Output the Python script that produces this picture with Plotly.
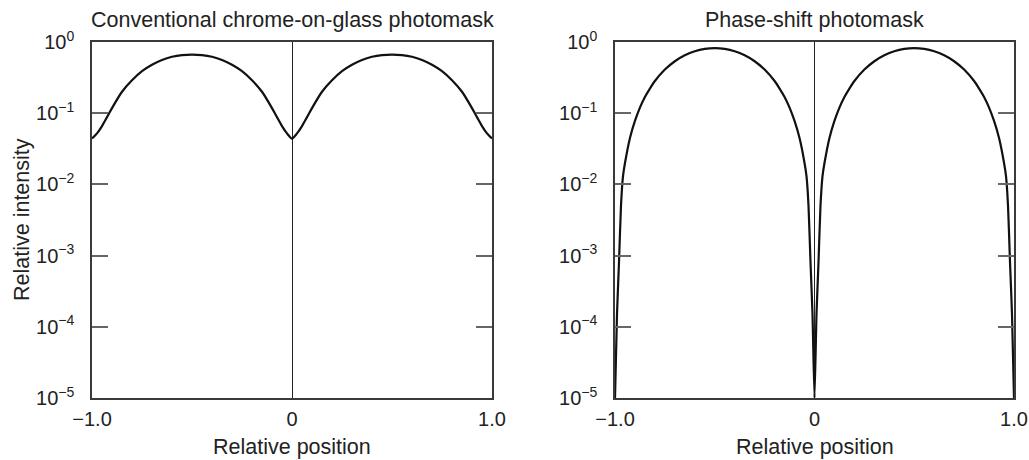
import plotly.graph_objects as go

# ---- data ----
x_conv = [-1.0, -0.975, -0.95, -0.925, -0.9, -0.85, -0.8, -0.75, -0.7, -0.65, -0.6, -0.55,
          -0.5, -0.45, -0.4, -0.35, -0.3, -0.25, -0.2, -0.15, -0.1, -0.075, -0.05, -0.025, 0.0,
          0.025, 0.05, 0.075, 0.1, 0.15, 0.2, 0.25, 0.3, 0.35, 0.4, 0.45, 0.5,
          0.55, 0.6, 0.65, 0.7, 0.75, 0.8, 0.85, 0.9, 0.925, 0.95, 0.975, 1.0]
y_conv = [0.044, 0.052, 0.066, 0.088, 0.118, 0.2, 0.29, 0.39, 0.48, 0.56, 0.62, 0.655,
          0.665, 0.655, 0.62, 0.56, 0.48, 0.39, 0.29, 0.2, 0.118, 0.088, 0.066, 0.052, 0.044,
          0.052, 0.066, 0.088, 0.118, 0.2, 0.29, 0.39, 0.48, 0.56, 0.62, 0.655, 0.665,
          0.655, 0.62, 0.56, 0.48, 0.39, 0.29, 0.2, 0.118, 0.088, 0.066, 0.052, 0.044]

x_ps = [-1.0, -0.99, -0.98, -0.97, -0.96, -0.95, -0.925, -0.9, -0.875, -0.85, -0.825, -0.8,
        -0.75, -0.7, -0.65, -0.6, -0.55, -0.5, -0.45, -0.4, -0.35, -0.3, -0.25,
        -0.2, -0.175, -0.15, -0.125, -0.1, -0.075, -0.05, -0.04, -0.03, -0.02, -0.01, 0.0,
        0.01, 0.02, 0.03, 0.04, 0.05, 0.075, 0.1, 0.125, 0.15, 0.175, 0.2,
        0.25, 0.3, 0.35, 0.4, 0.45, 0.5, 0.55, 0.6, 0.65, 0.7, 0.75,
        0.8, 0.825, 0.85, 0.875, 0.9, 0.925, 0.95, 0.96, 0.97, 0.98, 0.99, 1.0]
y_ps = [1e-5, 1.5e-4, 8e-4, 5e-3, 0.013, 0.02, 0.045, 0.078, 0.12, 0.169, 0.222, 0.283,
        0.41, 0.537, 0.651, 0.742, 0.80, 0.82, 0.80, 0.742, 0.651, 0.537, 0.41,
        0.283, 0.222, 0.169, 0.12, 0.078, 0.045, 0.02, 0.013, 5e-3, 8e-4, 1.5e-4, 1e-5,
        1.5e-4, 8e-4, 5e-3, 0.013, 0.02, 0.045, 0.078, 0.12, 0.169, 0.222, 0.283,
        0.41, 0.537, 0.651, 0.742, 0.80, 0.82, 0.80, 0.742, 0.651, 0.537, 0.41,
        0.283, 0.222, 0.169, 0.12, 0.078, 0.045, 0.02, 0.013, 5e-3, 8e-4, 1.5e-4, 1e-5]

y_tickvals = [1, 1e-1, 1e-2, 1e-3, 1e-4, 1e-5]
y_ticktext = ["10<sup>0</sup>", "10<sup>\u22121</sup>", "10<sup>\u22122</sup>",
              "10<sup>\u22123</sup>", "10<sup>\u22124</sup>", "10<sup>\u22125</sup>"]
x_tickvals = [-1.0, 0.0, 1.0]
x_ticktext = ["\u22121.0", "0", "1.0"]

titles = ["Conventional chrome-on-glass photomask", "Phase-shift photomask"]
x_title = "Relative position"
y_title = "Relative intensity"

W, H = 1029, 460
FONT = "Liberation Sans, Arial, sans-serif"
TXT = "#222222"

fig = go.Figure()
fig.add_trace(go.Scatter(x=x_conv, y=y_conv, mode="lines", xaxis="x", yaxis="y",
                         line=dict(color="#111111", width=2.2, shape="spline", smoothing=0.6),
                         showlegend=False, hoverinfo="skip"))
fig.add_trace(go.Scatter(x=x_ps, y=y_ps, mode="lines", xaxis="x2", yaxis="y2",
                         line=dict(color="#111111", width=2.2, shape="spline", smoothing=0.5),
                         showlegend=False, hoverinfo="skip"))

dom_l = [92 / W, 492 / W]
dom_r = [615 / W, 1014 / W]
dom_y = [1 - 398 / H, 1 - 42 / H]

xcommon = dict(range=[-1, 1], tickvals=x_tickvals, ticktext=x_ticktext, ticks="",
               showline=True, linecolor="#3a3a3a", linewidth=1.5, mirror=True,
               showgrid=False, zeroline=True, zerolinecolor="#222222", zerolinewidth=1.2,
               automargin=False,
               tickfont=dict(family=FONT, size=20, color=TXT), ticklabelstandoff=2)
ycommon = dict(type="log", range=[-5, 0], tickvals=y_tickvals, ticktext=y_ticktext,
               ticks="inside", ticklen=16, tickwidth=1.5, tickcolor="#666666",
               showline=True, linecolor="#3a3a3a", linewidth=1.5, mirror="ticks",
               showgrid=False, zeroline=False, automargin=False,
               tickfont=dict(family=FONT, size=20, color=TXT), ticklabelstandoff=12)

fig.update_layout(
    width=W, height=H, margin=dict(l=0, r=0, t=0, b=0),
    paper_bgcolor="white", plot_bgcolor="white",
    xaxis=dict(domain=dom_l, anchor="y", **xcommon),
    yaxis=dict(domain=dom_y, anchor="x", **ycommon),
    xaxis2=dict(domain=dom_r, anchor="y2", **xcommon),
    yaxis2=dict(domain=dom_y, anchor="x2", **ycommon),
)

ann = []
for dom, t in zip([dom_l, dom_r], titles):
    cx = (dom[0] + dom[1]) / 2
    ann.append(dict(x=cx, y=1 - 20 / H, xref="paper", yref="paper", text=t, showarrow=False,
                    xanchor="center", yanchor="middle",
                    font=dict(family=FONT, size=21.5, color=TXT)))
    ann.append(dict(x=cx, y=1 - 447 / H, xref="paper", yref="paper", text=x_title,
                    showarrow=False, xanchor="center", yanchor="middle",
                    font=dict(family=FONT, size=21.5, color=TXT)))
ann.append(dict(x=22 / W, y=1 - 220 / H, xref="paper", yref="paper", text=y_title,
                showarrow=False, textangle=-90, xanchor="center", yanchor="middle",
                font=dict(family=FONT, size=21.5, color=TXT)))
fig.update_layout(annotations=ann)

fig.write_html("out.html")
